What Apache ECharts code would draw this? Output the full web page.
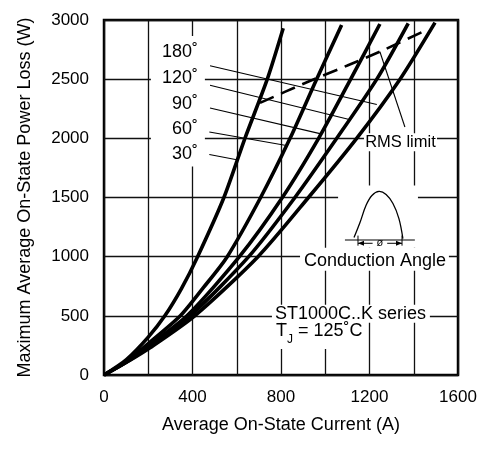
<!DOCTYPE html>
<html><head><meta charset="utf-8">
<script src="https://cdn.jsdelivr.net/npm/echarts@6/dist/echarts.min.js"></script>
<style>html,body{margin:0;padding:0;background:#fff}#c{width:486px;height:449px}</style>
</head><body><div id="c"></div>
<script>
// ---- data (Average On-State Current A, Power Loss W) ----
const xTickLabels = [0, 400, 800, 1200, 1600];
const yTickLabels = [0, 500, 1000, 1500, 2000, 2500, 3000];
const angleNames = ['180˚', '120˚', '90˚', '60˚', '30˚'];
const curve30 = [[0,0],[100,128],[200,320],[275,500],[350,730],[423,1000],[542,1500],[637,2000],[738,2500],[810,2930]];
const curve60 = [[0,0],[100,115],[200,265],[345,500],[450,740],[557,1000],[708,1500],[841,2000],[961,2500],[1074,2958]];
const curve90 = [[0,0],[100,110],[200,245],[375,500],[612,1000],[806,1500],[970,2000],[1115,2500],[1247,2966]];
const curve120 = [[0,0],[100,107],[200,235],[390,500],[654,1000],[863,1500],[1052,2000],[1233,2500],[1375,2972]];
const curve180 = [[0,0],[100,105],[208,230],[410,500],[696,1000],[924,1500],[1142,2000],[1338,2500],[1496,2978]];
const rmsLimit = [[705,2300],[925,2480],[1100,2615],[1250,2735],[1445,2905]];

// ---- annotation layout (in data coordinates) ----
const FONT = '"Liberation Sans", Arial, sans-serif';
const whiteBoxes = [
  [[212,2864],[456,1763]],
  [[1058,1602],[1419,1076]],
  [[886,1076],[1559,881]],
  [[1175,2042],[1505,1890]],
  [[759,593],[1473,441]],
  [[759,441],[1184,220]]
];
const angleLabelPos = [[425,2729],[425,2508],[425,2292],[425,2081],[425,1869]];
const leaders = [
  [[479,2613],[1233,2286]],
  [[479,2449],[1104,2161]],
  [[479,2257],[976,2040]],
  [[476,2053],[818,1941]],
  [[476,1864],[600,1819]],
  [[1247,2732],[1360,2096]]
];
const iconArc = [[1130,1161],[1157,1288],[1184,1432],[1211,1517],[1243,1551],[1275,1525],[1306,1449],[1333,1322],[1351,1153]];
const iconBase = [[1089,1141],[1405,1141]];
const iconExt = [[[1148,1178],[1148,1093]],[[1347,1178],[1347,1093]]];
const iconDim = [[[1148,1113],[1214,1113]],[[1280,1113],[1347,1113]]];
const iconPhi = [1247,1114];

const chart = echarts.init(document.getElementById('c'), null, {renderer:'canvas'});
const curveStyle = {color:'#000', width:3.6};
function curve(name, data){
  return {type:'line', name, data, symbol:'none', smooth:0.25,
          lineStyle:curveStyle, itemStyle:{color:'#000'}, silent:true, z:3};
}
chart.setOption({
  animation:false,
  grid:{left:104, top:20, right:28, bottom:74, show:true, borderColor:'#000', borderWidth:2.5,
        containLabel:false, outerBoundsMode:'none'},
  xAxis:{type:'value', min:0, max:1600, interval:200,
    name:'Average On-State Current (A)', nameLocation:'middle', nameGap:41,
    nameTextStyle:{fontSize:18, color:'#000', fontFamily:FONT},
    axisLine:{show:false}, axisTick:{show:false},
    axisLabel:{fontSize:17, color:'#000', margin:14, fontFamily:FONT,
      formatter:v => xTickLabels.indexOf(v) >= 0 ? String(v) : ''},
    splitLine:{show:true, lineStyle:{color:'#111', width:1.3}}},
  yAxis:{type:'value', min:0, max:3000, interval:500,
    name:'Maximum Average On-State Power Loss (W)', nameLocation:'middle', nameGap:70,
    nameTextStyle:{fontSize:18, color:'#000', fontFamily:FONT},
    axisLine:{show:false}, axisTick:{show:false},
    axisLabel:{fontSize:17, color:'#000', margin:15, fontFamily:FONT,
      formatter:v => yTickLabels.indexOf(v) >= 0 ? String(v) : ''},
    splitLine:{show:true, lineStyle:{color:'#111', width:1.3}}},
  series:[
    curve('30˚', curve30), curve('60˚', curve60), curve('90˚', curve90),
    curve('120˚', curve120), curve('180˚', curve180),
    {type:'line', name:'RMS limit', data:rmsLimit, symbol:'none', smooth:0.2, silent:true, z:4,
     lineStyle:{color:'#000', width:2.6, type:[15,8]}}
  ]
});

const P = p => chart.convertToPixel({gridIndex:0}, p);
const els = [];
whiteBoxes.forEach(b => {
  const a = P(b[0]), c = P(b[1]);
  els.push({type:'rect', z:50, shape:{x:a[0], y:a[1], width:c[0]-a[0], height:c[1]-a[1]}, style:{fill:'#fff'}});
});
function line(pts, w){
  els.push({type:'polyline', z:60, shape:{points:pts.map(P)}, style:{stroke:'#000', lineWidth:w, fill:null}});
}
leaders.forEach(l => line(l, 1.1));
els.push({type:'polyline', z:60, shape:{points:iconArc.map(P), smooth:0.35}, style:{stroke:'#000', lineWidth:1.3, fill:null}});
line(iconBase, 1.1);
iconExt.forEach(l => line(l, 1));
iconDim.forEach(l => line(l, 1));
(function(){
  const l = P(iconDim[0][0]), r = P(iconDim[1][1]);
  els.push({type:'polygon', z:61, shape:{points:[[l[0],l[1]],[l[0]+6,l[1]-2.5],[l[0]+6,l[1]+2.5]]}, style:{fill:'#000'}});
  els.push({type:'polygon', z:61, shape:{points:[[r[0],r[1]],[r[0]-6,r[1]-2.5],[r[0]-6,r[1]+2.5]]}, style:{fill:'#000'}});
})();
function text(str, pos, size, align){
  const p = P(pos);
  els.push({type:'text', z:70, x:p[0], y:p[1],
    style:{text:str, fill:'#000', font:size + 'px ' + FONT, align:align, verticalAlign:'middle',
           textAlign:align, textVerticalAlign:'middle'}});
}
angleNames.forEach((n, i) => text(n, angleLabelPos[i], 18, 'right'));
text('ø', iconPhi, 11, 'center');
text('RMS limit', [1340,1966], 16.5, 'center');
text('Conduction Angle', [1225,966], 18, 'center');
text('ST1000C..K series', [773,517], 18, 'left');
text('T', [777,373], 18, 'left');
text('J', [827,300], 12, 'left');
text('= 125˚C', [877,373], 18, 'left');
chart.setOption({graphic:{elements:els}});
</script>
</body></html>
